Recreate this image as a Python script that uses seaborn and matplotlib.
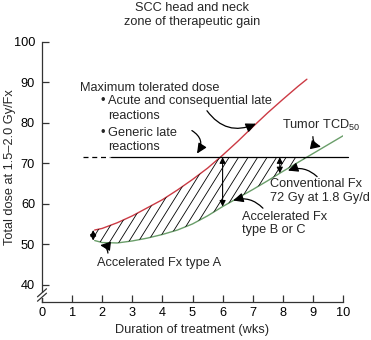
import numpy as np
import pandas as pd
import matplotlib
matplotlib.use("Agg")
import matplotlib.pyplot as plt
from matplotlib.collections import LineCollection
import seaborn as sns

# Maximum tolerated dose (Gy) against overall treatment time (weeks)
mtd_weeks = [1.75, 2.0, 2.5, 3.0, 3.5, 4.0, 4.5, 5.0, 5.5, 6.0, 6.5, 7.0, 7.5, 8.0, 8.5, 8.8]
mtd_dose = [53.5, 53.9, 55.3, 57.0, 59.0, 61.0, 63.4, 66.0, 68.8, 72.0, 75.4, 79.0, 82.5, 85.8, 89.0, 90.8]

# Tumor TCD50 against overall treatment time (weeks)
tcd_weeks = [1.75, 2.0, 2.5, 3.0, 3.5, 4.0, 4.5, 5.0, 5.5, 6.0, 6.5, 7.0, 7.5, 8.0, 8.5, 9.0, 9.5, 10.0]
tcd_dose = [50.9, 50.4, 50.3, 50.8, 51.5, 52.4, 53.5, 55.0, 57.0, 59.3, 61.4, 63.5, 65.7, 68.0, 70.2, 72.4, 74.6, 76.8]

# Generic late reactions limit
late_limit = 71.5
late_dashed_weeks = [1.35, 2.25]
late_solid_weeks = [2.3, 10.17]

# Gain markers (double arrows) at these treatment times
gain_weeks = [1.7, 6.0, 7.9]

x_ticks = list(range(0, 11))
y_ticks = [40, 50, 60, 70, 80, 90, 100]

title = "SCC head and neck\nzone of therapeutic gain"
x_label = "Duration of treatment (wks)"
y_label = "Total dose at 1.5\u20132.0 Gy/Fx"

RED = "#cc3a44"
GREEN = "#6a9e6a"
FS = 9.2

sns.set_style("ticks")
plt.rcParams["font.family"] = ["Liberation Sans", "DejaVu Sans"]
plt.rcParams["mathtext.fontset"] = "custom"
plt.rcParams["mathtext.rm"] = "Liberation Sans"

fig = plt.figure(figsize=(3.71, 3.40), dpi=100)
ax = fig.add_axes([42 / 371, 1 - 302 / 340, 301 / 371, 260 / 340])
ax.set_xlim(0, 10)
ax.set_ylim(35.7, 100)

mtd = pd.DataFrame({"weeks": mtd_weeks, "dose": mtd_dose})
tcd = pd.DataFrame({"weeks": tcd_weeks, "dose": tcd_dose})
sns.lineplot(data=mtd, x="weeks", y="dose", color=RED, lw=1.0, ax=ax, sort=True)
sns.lineplot(data=tcd, x="weeks", y="dose", color=GREEN, lw=1.0, ax=ax, sort=True)

# Late reactions limit line
ax.plot(late_dashed_weeks, [late_limit] * 2, color="black", lw=0.9, ls=(0, (4, 3)))
ax.plot(late_solid_weeks, [late_limit] * 2, color="black", lw=0.9, clip_on=False)

# Zone of therapeutic gain: between TCD50 and the lower of the two tolerance limits
xs = np.linspace(mtd_weeks[0], tcd_weeks[-1], 600)
lower = np.interp(xs, tcd_weeks, tcd_dose)
upper = np.minimum(np.interp(xs, mtd_weeks, mtd_dose), late_limit)
zone = ax.fill_between(xs, lower, upper, where=upper > lower, facecolor="none",
                       edgecolor="none", linewidth=0, interpolate=True)

# Steep hatch lines clipped to the zone
fig.canvas.draw()
px_x = ax.transData.transform((1, 0))[0] - ax.transData.transform((0, 0))[0]
px_y = ax.transData.transform((0, 1))[1] - ax.transData.transform((0, 0))[1]
angle = np.deg2rad(58)
slope = np.tan(angle) * px_x / px_y
step = 9.5 / px_x
segs = []
for c in np.arange(-6, 12, step):
    segs.append([(c, 35), (c + 65 / slope, 100)])
lc = LineCollection(segs, colors="black", linewidths=0.6)
ax.add_collection(lc)
lc.set_clip_path(zone.get_paths()[0], ax.transData)

# Double-headed gain arrows
for w in gain_weeks:
    lo = float(np.interp(w, tcd_weeks, tcd_dose))
    hi = min(float(np.interp(w, mtd_weeks, mtd_dose)), late_limit)
    ax.annotate("", xy=(w, lo), xytext=(w, hi),
                arrowprops=dict(arrowstyle="<|-|>,head_length=0.35,head_width=0.18",
                                color="black", lw=0.8, shrinkA=0, shrinkB=0))

# Text labels
ax.text(1.26, 88.7, "Maximum tolerated dose", fontsize=FS, va="center", ha="left")
ax.text(1.93, 85.5, "\u2022", fontsize=FS, va="center", ha="left")
ax.text(2.2, 85.5, "Acute and consequential late", fontsize=FS, va="center", ha="left")
ax.text(2.2, 81.8, "reactions", fontsize=FS, va="center", ha="left")
ax.text(1.93, 77.6, "\u2022", fontsize=FS, va="center", ha="left")
ax.text(2.2, 77.6, "Generic late", fontsize=FS, va="center", ha="left")
ax.text(2.2, 74.1, "reactions", fontsize=FS, va="center", ha="left")
ax.text(7.97, 79.3, "Tumor TCD$_{\\mathregular{50}}$", fontsize=FS, va="center", ha="left")
ax.text(7.57, 65.0, "Conventional Fx", fontsize=FS, va="center", ha="left")
ax.text(7.57, 61.3, "72 Gy at 1.8 Gy/d", fontsize=FS, va="center", ha="left")
ax.text(6.64, 56.6, "Accelerated Fx", fontsize=FS, va="center", ha="left")
ax.text(6.64, 53.4, "type B or C", fontsize=FS, va="center", ha="left")
ax.text(1.83, 45.3, "Accelerated Fx type A", fontsize=FS, va="center", ha="left")

# Pointer arrows
pointers = [
    ((5.48, 83.0), (7.11, 79.8), 0.4),
    ((4.98, 78.1), (5.15, 72.4), -0.5),
    ((9.0, 76.6), (9.27, 74.1), 0.4),
    ((9.14, 66.7), (8.17, 68.2), 0.3),
    ((7.34, 58.9), (6.35, 60.8), 0.3),
    ((2.19, 47.8), (1.93, 49.75), 0.4),
]
for start, end, rad in pointers:
    ax.annotate("", xy=end, xytext=start,
                arrowprops=dict(arrowstyle="-|>,head_length=0.6,head_width=0.28",
                                color="black", lw=0.9, shrinkA=0, shrinkB=0,
                                connectionstyle=f"arc3,rad={rad}"))

# Axes styling
sns.despine(ax=ax)
for s in ("left", "bottom"):
    ax.spines[s].set_linewidth(0.9)
    ax.spines[s].set_color("#333333")
ax.set_xticks(x_ticks)
ax.set_yticks(y_ticks)
ax.tick_params(axis="both", direction="in", length=5, width=0.9, color="#333333",
               labelsize=FS, labelcolor="black")
ax.tick_params(axis="x", pad=3.5)
ax.tick_params(axis="y", pad=5)
ax.set_xlabel("")
ax.set_ylabel("")

# Axis break on the dose axis
bx, by = 0.0, 7 / 260
pxw, pxh = 1 / 301, 1 / 260
ax.add_patch(plt.Rectangle((bx - 2 * pxw, by - 2.5 * pxh), 4 * pxw, 5 * pxh,
                           transform=ax.transAxes, facecolor="white", edgecolor="none",
                           clip_on=False, zorder=5))
for off in (-2.2, 2.2):
    ax.plot([bx - 4.5 * pxw, bx + 4.5 * pxw],
            [by + off * pxh - 4 * pxh, by + off * pxh + 4 * pxh],
            transform=ax.transAxes, color="#333333", lw=0.9, clip_on=False, zorder=6)

fig.text(192 / 371, 1 - 2 / 340, title, fontsize=FS, ha="center", va="top", linespacing=1.2)
fig.text(192 / 371, 1 - 330 / 340, x_label, fontsize=FS, ha="center", va="center")
fig.text(10 / 371, 1 - 167 / 340, y_label, fontsize=FS, ha="center", va="center", rotation=90)

fig.savefig("out.png", dpi=100)
